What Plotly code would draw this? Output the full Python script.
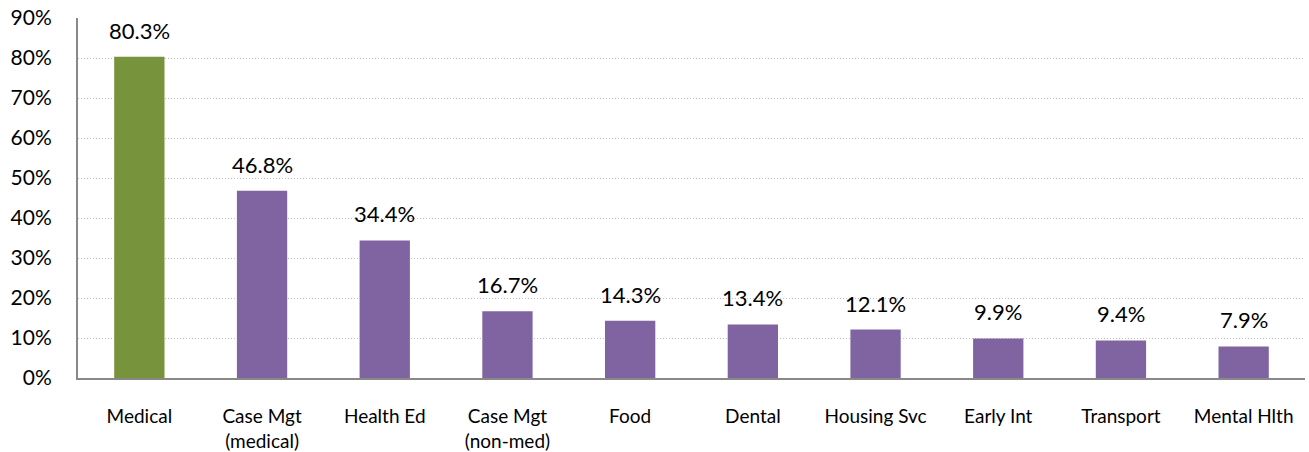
import plotly.graph_objects as go

categories = ["Medical", "Case Mgt<br>(medical)", "Health Ed", "Case Mgt<br>(non-med)", "Food",
              "Dental", "Housing Svc", "Early Int", "Transport", "Mental Hlth"]
values = [80.3, 46.8, 34.4, 16.7, 14.3, 13.4, 12.1, 9.9, 9.4, 7.9]
colors = ["#77933C"] + ["#8064A2"] * 9
labels = [f"{v:.1f}%" for v in values]
y_ticks = list(range(0, 91, 10))
y_tick_text = [f"{t}%" for t in y_ticks]

FONT = "Lato, Carlito, Calibri, sans-serif"

fig = go.Figure()
fig.add_trace(go.Bar(x=categories, y=values, marker=dict(color=colors, line=dict(width=0)),
                     hoverinfo="skip"))
for c, v, t in zip(categories, values, labels):
    fig.add_annotation(x=c, y=v, text=t, showarrow=False, yanchor="bottom", yshift=11,
                       font=dict(size=22, color="#000000", family=FONT))

fig.update_layout(
    width=1309, height=452,
    margin=dict(l=78, r=4, t=18, b=74, autoexpand=False),
    plot_bgcolor="white", paper_bgcolor="white",
    bargap=0.59, showlegend=False,
    font=dict(family=FONT, color="#000000"),
)
fig.update_yaxes(range=[0, 90], tickvals=y_ticks, ticktext=y_tick_text,
                 showgrid=True, gridcolor="#BFBFBF", griddash="1px,2px", gridwidth=1,
                 showline=True, linecolor="#898989", linewidth=2,
                 ticks="", tickfont=dict(size=21, family=FONT, color="#000000"),
                 ticklabelstandoff=20, ticklabeloverflow="allow",
                 zeroline=False, fixedrange=True, automargin=False)
fig.update_xaxes(showline=True, linecolor="#898989", linewidth=2, ticks="",
                 tickfont=dict(size=19, family=FONT, color="#000000"),
                 ticklabelstandoff=20, ticklabeloverflow="allow",
                 fixedrange=True, automargin=False)

fig.write_html("out.html", config={"displayModeBar": False},
               post_script="document.body.style.margin='0';document.body.style.overflow='hidden';")
